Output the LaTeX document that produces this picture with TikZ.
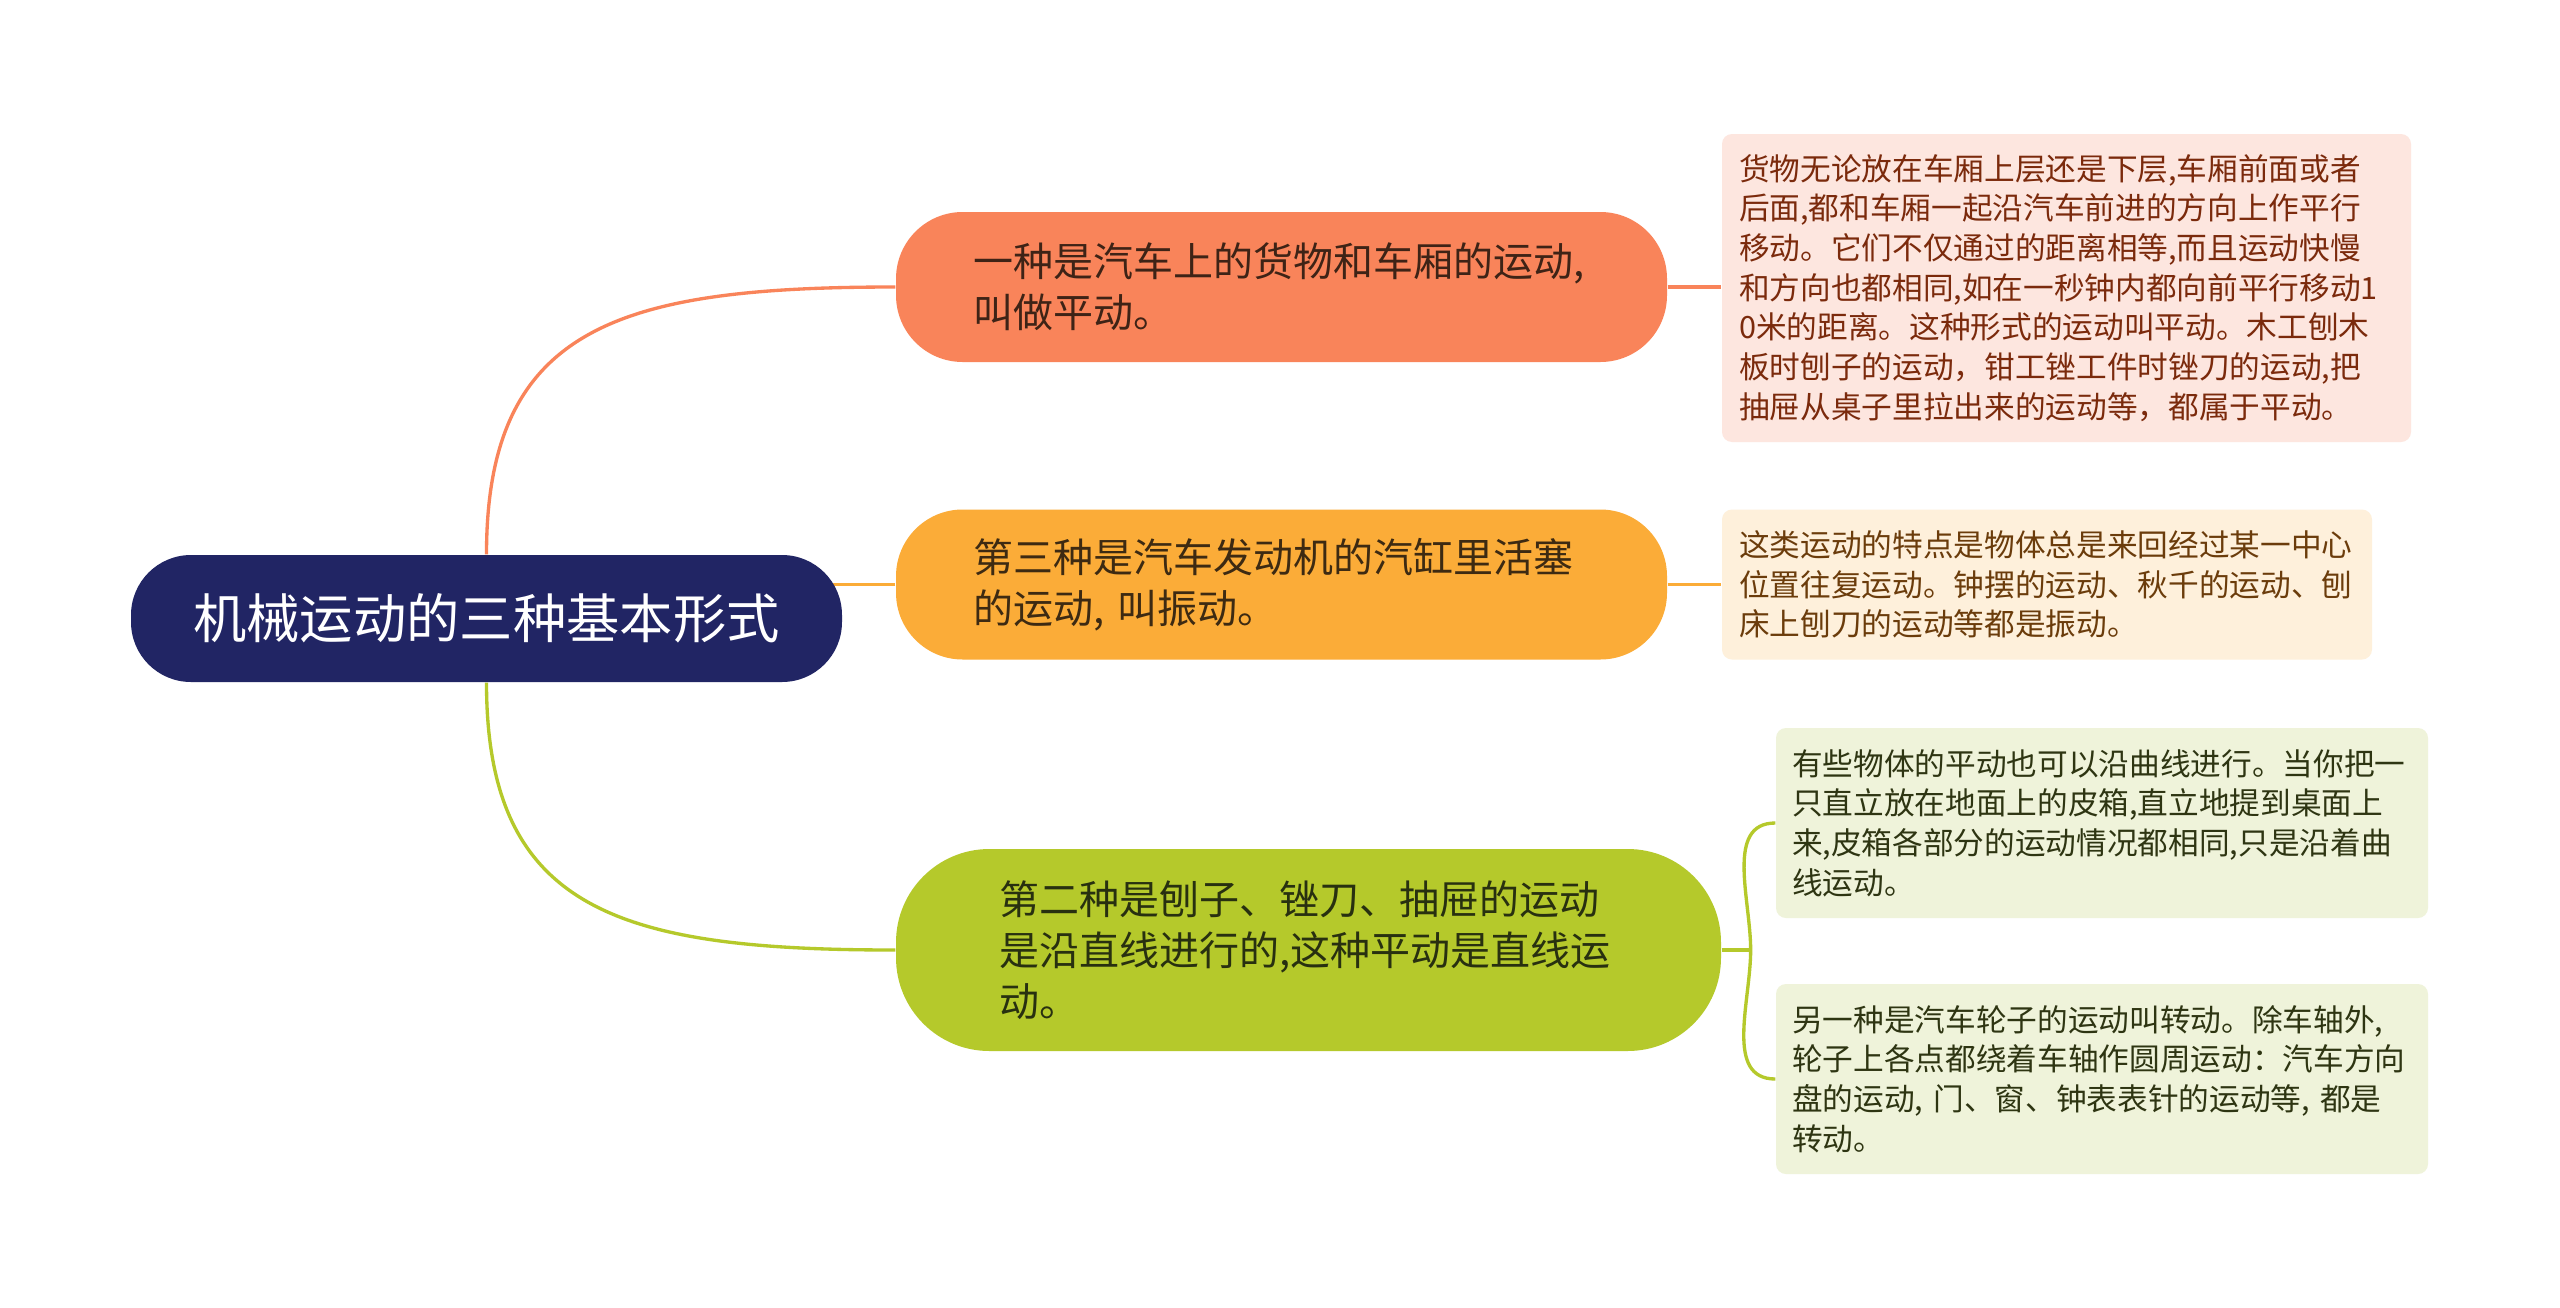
\documentclass[tikz,border=0pt]{standalone}
\usepackage{fontspec}
\setmainfont{Noto Sans CJK SC}
\usetikzlibrary{backgrounds}
\definecolor{rootblue}{HTML}{212564}
\definecolor{coral}{HTML}{F9845A}
\definecolor{amber}{HTML}{FBAC38}
\definecolor{lime}{HTML}{B5C92B}
\definecolor{coralleaf}{HTML}{FDE6DF}
\definecolor{amberleaf}{HTML}{FEF0DB}
\definecolor{limeleaf}{HTML}{EFF3DA}
\definecolor{coraltext}{HTML}{7B2A0C}
\definecolor{ambertext}{HTML}{6B3C0B}
\definecolor{limetext}{HTML}{2E3512}
\definecolor{coraldark}{HTML}{3E2316}
\definecolor{amberdark}{HTML}{3D2A12}
\definecolor{limedark}{HTML}{283010}

\begin{document}
\begin{tikzpicture}[x=0.3pt,y=-0.3pt,
    rootbox/.style={fill=rootblue,text=white,rounded corners=18pt,minimum width=213.3pt,minimum height=38.1pt,font=\fontsize{16pt}{19pt}\selectfont},
    branchbox/.style={rounded corners=20pt,inner xsep=23.1pt,text width=185.1pt,align=left,minimum height=45pt,font=\fontsize{12pt}{15.4pt}\selectfont},
    leafbox/.style={rounded corners=3pt,inner xsep=5.1pt,align=left,font=\fontsize{9.2pt}{11.9pt}\selectfont},
    link/.style={line width=1pt}]
    \node[rootbox] (root) at (486.5,618.5) {机械运动的三种基本形式};
    \node[branchbox,fill=coral,text=coraldark] (trans) at (1281.5,287) {一种是汽车上的货物和车厢的运动,\\叫做平动。};
    \node[branchbox,fill=amber,text=amberdark] (vib) at (1281.5,584.5) {第三种是汽车发动机的汽缸里活塞\\的运动, 叫振动。};
    \node[branchbox,fill=lime,text=limedark,rounded corners=28pt,inner xsep=30.9pt,text width=185.7pt,minimum height=60.6pt] (line) at (1308.5,950) {第二种是刨子、锉刀、抽屉的运动\\是沿直线进行的,这种平动是直线运\\动。};
    \node[leafbox,fill=coralleaf,text=coraltext,text width=196.5pt,minimum height=92.4pt] (transnote) at (2066.5,288) {货物无论放在车厢上层还是下层,车厢前面或者\\后面,都和车厢一起沿汽车前进的方向上作平行\\移动。它们不仅通过的距离相等,而且运动快慢\\和方向也都相同,如在一秒钟内都向前平行移动1\\0米的距离。这种形式的运动叫平动。木工刨木\\板时刨子的运动，钳工锉工件时锉刀的运动,把\\抽屉从桌子里拉出来的运动等，都属于平动。};
    \node[leafbox,fill=amberleaf,text=ambertext,text width=184.8pt,minimum height=45pt] (vibnote) at (2047,584.5) {这类运动的特点是物体总是来回经过某一中心\\位置往复运动。钟摆的运动、秋千的运动、刨\\床上刨刀的运动等都是振动。};
    \node[leafbox,fill=limeleaf,text=limetext,inner xsep=4.8pt,text width=186pt,minimum height=57pt] (curvenote) at (2102,823) {有些物体的平动也可以沿曲线进行。当你把一\\只直立放在地面上的皮箱,直立地提到桌面上\\来,皮箱各部分的运动情况都相同,只是沿着曲\\线运动。};
    \node[leafbox,fill=limeleaf,text=limetext,inner xsep=4.8pt,text width=186pt,minimum height=57pt] (rotnote) at (2102,1079) {另一种是汽车轮子的运动叫转动。除车轴外,\\轮子上各点都绕着车轴作圆周运动：汽车方向\\盘的运动, 门、窗、钟表表针的运动等, 都是\\转动。};
    \coordinate (fork) at ([xshift=8.7pt]line.east);
    \begin{pgfonlayer}{background}
        \fill[white] (0,0) rectangle (2560,1307);
        \draw[link,coral] (root.north) .. controls +(0,-228) and +(-276,0) .. (trans.west);
        \draw[link,amber] (vib.west) -- (vib.west -| root.center);
        \draw[link,lime] (root.south) .. controls +(0,228) and +(-276,0) .. (line.west);
        \draw[link,coral] (trans.east) -- (trans.east -| transnote.west);
        \draw[link,amber] (vib.east) -- (vib.east -| vibnote.west);
        \draw[link,lime] (line.east) -- (fork);
        \draw[link,lime] (curvenote.west) to[out=180,in=90] (fork) to[out=-90,in=180] (rotnote.west);
    \end{pgfonlayer}
    \useasboundingbox (0,0) rectangle (2560,1307);
\end{tikzpicture}
\end{document}
